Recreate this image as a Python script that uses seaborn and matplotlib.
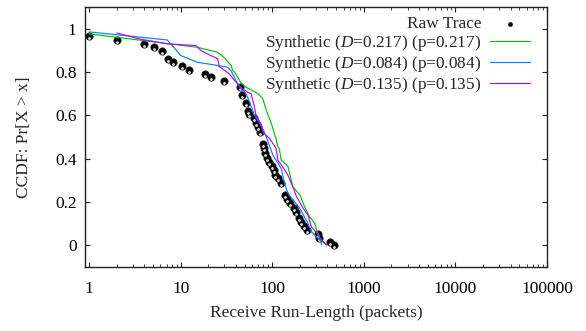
import matplotlib
matplotlib.use("Agg")
import matplotlib.pyplot as plt
import seaborn as sns
import pandas as pd
import numpy as np
from matplotlib.ticker import LogLocator, NullFormatter, FixedLocator
from matplotlib.transforms import ScaledTranslation

# ---------------- data ----------------
raw_x = [1, 2.03, 4.0, 5.05, 6.2, 7.2, 8.3, 10.2, 12.4, 18.4, 21.3, 29.6,
         44.7, 46.7, 51.6, 54.2, 56.1, 62.6, 66.4, 69.8, 73.9, 78.5, 81.1,
         83.8, 87.5, 92.7, 99.3, 103.5, 107.9, 115.4, 125.4, 136.7, 144.8,
         157.4, 171.4, 181.6, 194.3, 206, 220.4, 239.4, 315.7, 326.3, 430.5, 469]
raw_y = [0.964, 0.950, 0.931, 0.914, 0.896, 0.862, 0.846, 0.828, 0.811, 0.793,
         0.777, 0.758, 0.732, 0.694, 0.655, 0.622, 0.605, 0.586, 0.566, 0.548,
         0.525, 0.466, 0.448, 0.425, 0.401, 0.386, 0.368, 0.347, 0.324, 0.309,
         0.286, 0.232, 0.214, 0.194, 0.171, 0.152, 0.128, 0.109, 0.091, 0.071,
         0.051, 0.036, 0.017, 0.001]

green_x = [1, 15.2, 25.3, 29.5, 35.5, 37, 38.6, 45.5, 51.6, 69.8, 78.7, 86,
           97.5, 101.5, 110, 115, 119, 125, 148, 168, 200, 225, 255, 290, 305, 330, 345]
green_y = [0.976, 0.914, 0.891, 0.868, 0.83, 0.807, 0.8, 0.75, 0.73, 0.70, 0.677, 0.623,
           0.562, 0.539, 0.49, 0.454, 0.447, 0.393, 0.365, 0.27, 0.232, 0.178, 0.132,
           0.102, 0.071, 0.033, 0.002]

blue_x = [1, 7.1, 7.8, 10, 15.2, 25.3, 32.5, 35.5, 41.8, 45.5, 49.5, 53.8, 63.8,
          75.4, 86, 101.5, 125, 136, 148, 200, 245, 267, 315, 390]
blue_y = [0.985, 0.948, 0.93, 0.876, 0.845, 0.83, 0.822, 0.805, 0.746, 0.722, 0.71,
          0.684, 0.60, 0.554, 0.50, 0.416, 0.355, 0.286, 0.24, 0.171, 0.102, 0.063,
          0.033, 0.002]

mag_x = [2.0, 3.6, 7.1, 14.6, 16.6, 21.3, 25.3, 26.3, 33.9, 38.6, 47.6, 53.8,
         58.8, 63.8, 66.4, 75.4, 78.6, 93.5, 110, 115, 130, 148, 168, 184, 217,
         245, 267, 305, 345, 390]
mag_y = [0.98, 0.952, 0.93, 0.922, 0.899, 0.876, 0.861, 0.825, 0.792, 0.761, 0.722,
         0.707, 0.70, 0.638, 0.60, 0.56, 0.523, 0.493, 0.447, 0.393, 0.362, 0.324,
         0.27, 0.224, 0.171, 0.14, 0.086, 0.056, 0.025, 0.002]

labels = ["Raw Trace",
          r"Synthetic ($\mathit{D}$=0.217) (p=0.217)",
          r"Synthetic ($\mathit{D}$=0.084) (p=0.084)",
          r"Synthetic ($\mathit{D}$=0.135) (p=0.135)"]
xticks = [1, 10, 100, 1000, 10000, 100000]
xticklabels = ["1", "10", "100", "1000", "10000", "100000"]
yticks = [0, 0.2, 0.4, 0.6, 0.8, 1]
yticklabels = ["0", "0.2", "0.4", "0.6", "0.8", "1"]
colors = ["#00c000", "#0080ff", "#c000ff"]

# ---------------- style ----------------
sns.set_theme(style="ticks")
plt.rcParams["font.family"] = ["Liberation Serif", "DejaVu Serif"]
plt.rcParams["mathtext.fontset"] = "custom"
plt.rcParams["mathtext.rm"] = "Liberation Serif"
plt.rcParams["mathtext.it"] = "Liberation Serif:italic"
plt.rcParams["font.size"] = 12.5

fig = plt.figure(figsize=(5.86, 3.31), dpi=100)
ax = fig.add_axes([85/586, 1 - 267/331, (547-85)/586, (267-7)/331])

df_raw = pd.DataFrame({"x": raw_x, "y": raw_y})
lines = [(green_x, green_y), (blue_x, blue_y), (mag_x, mag_y)]
for (lx, ly), c, lab in zip(lines, colors, labels[1:]):
    d = pd.DataFrame({"x": lx, "y": ly})
    sns.lineplot(data=d, x="x", y="y", ax=ax, color=c, lw=0.85, sort=False,
                 estimator=None, label=lab, zorder=3)

sns.scatterplot(data=df_raw, x="x", y="y", ax=ax, color="black", s=28,
                edgecolor="#222222", linewidth=0.5, zorder=2, label=labels[0])
# small light highlight at the bottom of each point (gnuplot-like shading)
hl = ScaledTranslation(0, -2/100, fig.dpi_scale_trans)
sns.scatterplot(data=df_raw, x="x", y="y", ax=ax, color="#dddddd", s=4,
                linewidth=0, zorder=2.5, legend=False,
                transform=ax.transData + hl)

ax.set_xscale("log")
ax.set_xlim(0.9, 100000)
ax.set_ylim(-0.1, 1.1)
ax.xaxis.set_major_locator(FixedLocator(xticks))
ax.set_xticklabels(xticklabels)
ax.xaxis.set_minor_locator(LogLocator(base=10, subs=np.arange(2, 10)))
ax.xaxis.set_minor_formatter(NullFormatter())
ax.set_yticks(yticks)
ax.set_yticklabels(yticklabels)

for s in ax.spines.values():
    s.set_visible(True)
    s.set_linewidth(1.0)
    s.set_color("#222222")
ax.tick_params(which="both", direction="in", top=True, right=True,
               labelsize=12.5, colors="#222222", labelcolor="black")
ax.tick_params(which="major", length=3.5, width=0.8)
ax.tick_params(which="minor", length=2.0, width=0.6)
ax.tick_params(axis="x", which="major", pad=10)
ax.tick_params(axis="y", which="major", pad=6)

ax.set_xlabel("Receive Run-Length (packets)", fontsize=12.5)
ax.set_ylabel("CCDF: Pr[X > x]", fontsize=12.5)
ax.xaxis.set_label_coords(0.5, (267 - 313) / 260)
ax.xaxis.label.set_va("center")
ax.yaxis.set_label_coords((24 - 85) / 462, 0.5)
ax.yaxis.label.set_va("center")

# legend: gnuplot style (text then sample)
h, l = ax.get_legend_handles_labels()
order = [l.index(t) for t in labels]
leg = ax.legend([h[i] for i in order], [l[i] for i in order],
                loc="upper right", bbox_to_anchor=(1 - 12/462, 1 - 4/260),
                frameon=False, markerfirst=False, fontsize=12.4,
                labelspacing=0.05, handlelength=2.3, handletextpad=0.5,
                borderpad=0.3, borderaxespad=0.0, markerscale=0.55)

fig.savefig("out.png", dpi=100)
